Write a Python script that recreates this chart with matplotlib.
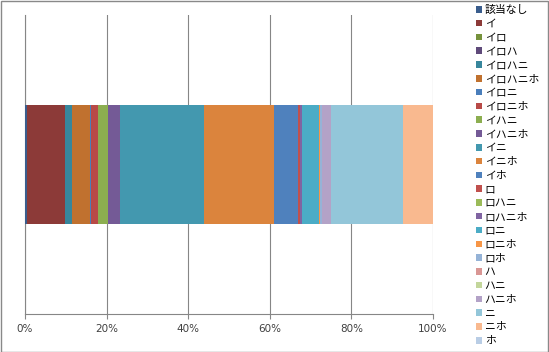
import matplotlib
matplotlib.use("Agg")
import matplotlib.pyplot as plt
from matplotlib.patches import Rectangle, Patch
import numpy as np

plt.rcParams['font.family'] = ['Noto Sans CJK JP', 'DejaVu Sans']

categories = ["該当なし", "イ", "イロ", "イロハ", "イロハニ", "イロハニホ", "イロニ", "イロニホ",
              "イハニ", "イハニホ", "イニ", "イニホ", "イホ", "ロ", "ロハニ", "ロハニホ",
              "ロニ", "ロニホ", "ロホ", "ハ", "ハニ", "ハニホ", "ニ", "ニホ", "ホ"]
values = [0.5, 9.3, 0.0, 0.0, 1.8, 4.3, 0.4, 1.5,
          2.6, 2.9, 20.6, 17.1, 6.0, 0.35, 0.05, 0.5,
          4.1, 0.4, 0.55, 0.0, 0.0, 2.1, 17.7, 7.3, 0.0]
colors = ["#3A5D8D", "#8C3A38", "#76923C", "#5F4A7A", "#37869C", "#C0712F", "#4A7EBB", "#B84A47",
          "#8CAE50", "#745A96", "#4398AF", "#DB843D", "#4F81BD", "#C0504D", "#9BBB59", "#8064A2",
          "#4BACC6", "#F79646", "#95B3D7", "#D99694", "#C3D69B", "#B3A2C7", "#93C6D9", "#F9B98F",
          "#B9CDE5"]
xticks = [0, 20, 40, 60, 80, 100]
xticklabels = ["0%", "20%", "40%", "60%", "80%", "100%"]

W, H = 549, 352
fig = plt.figure(figsize=(W / 100, H / 100), dpi=100)
ax = fig.add_axes([25 / W, (H - 314) / H, 408 / W, 299 / H])

total = sum(values)
pct = [v / total * 100 for v in values]
left = 0.0
for c, p, col in zip(categories, pct, colors):
    ax.barh(0, p, left=left, height=0.4, color=col, linewidth=0, zorder=3)
    left += p

ax.set_xlim(0, 100)
ax.set_ylim(-0.5, 0.5)
ax.set_yticks([])
ax.set_xticks(xticks)
ax.set_xticklabels(xticklabels, fontsize=7.5, color="#404040", family=['DejaVu Sans'])
ax.tick_params(axis='x', direction='out', length=3.5, width=0.8, color="#868686", pad=4)
ax.grid(axis='x', color="#868686", linewidth=0.8, zorder=0)
for s in ['top', 'right']:
    ax.spines[s].set_visible(False)
for s in ['left', 'bottom']:
    ax.spines[s].set_color("#868686")
    ax.spines[s].set_linewidth(0.8)

handles = [Patch(facecolor=col, edgecolor='none') for col in colors]
fig.legend(handles, categories, loc='upper left', bbox_to_anchor=(476 / W, 1 - 5 / H),
           frameon=False, fontsize=7.8, handlelength=0.55, handleheight=0.55,
           handletextpad=0.25, labelspacing=0.35, borderpad=0, borderaxespad=0)

fig.patches.append(Rectangle((0.5 / W, 0.5 / H), (W - 1.5) / W, (H - 1.5) / H,
                             transform=fig.transFigure, fill=False,
                             edgecolor="#898989", linewidth=1.0))

fig.savefig("out.png", dpi=100)
